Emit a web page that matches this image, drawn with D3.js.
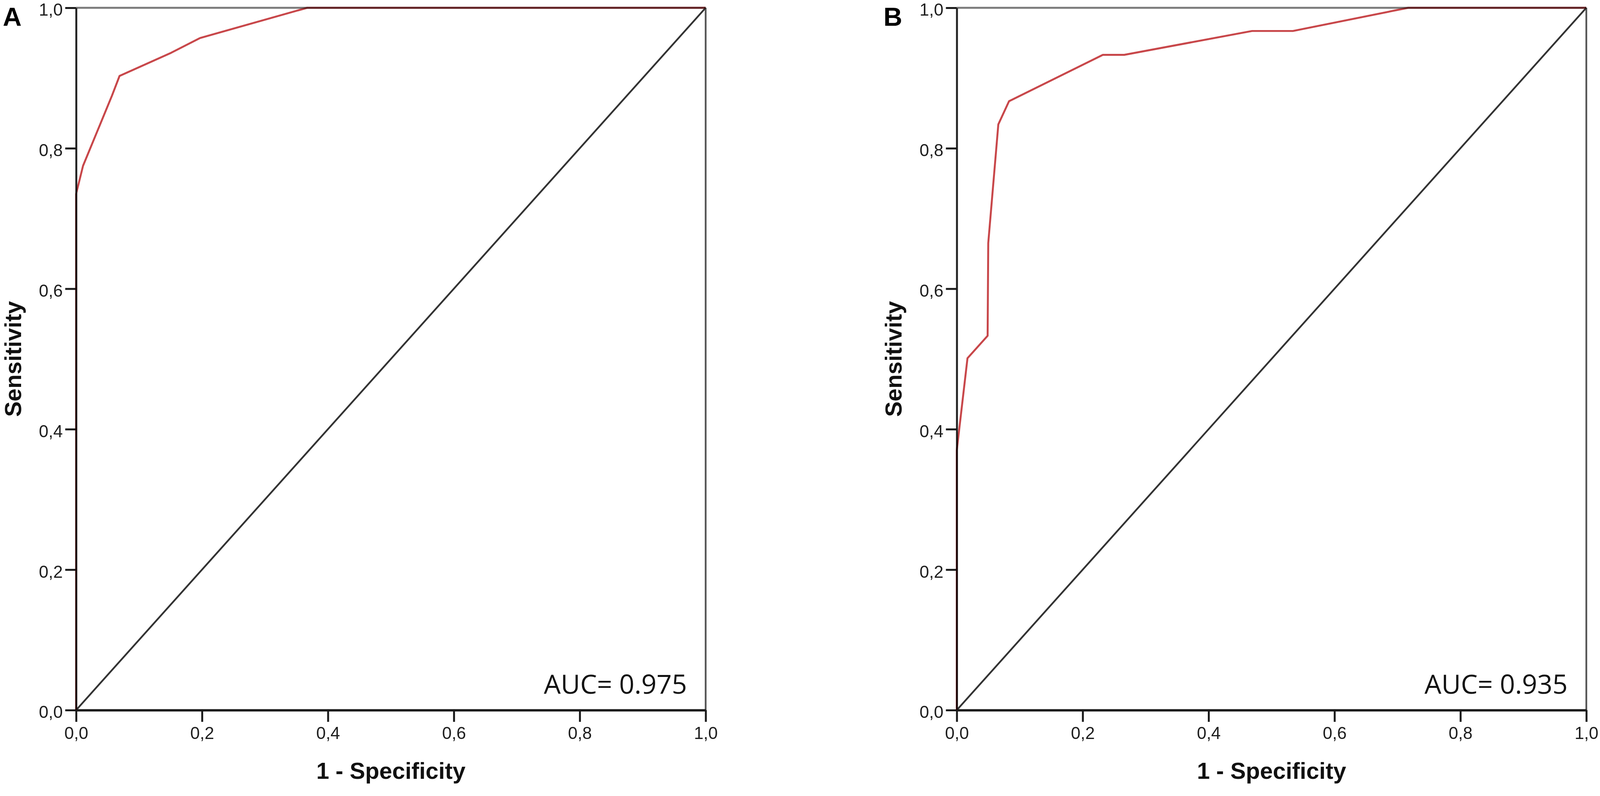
<!DOCTYPE html>
<html>
<head>
<meta charset="utf-8">
<script src="https://cdn.jsdelivr.net/npm/d3@7"></script>
<style>
html, body { margin: 0; padding: 0; background: #fff; overflow: hidden; }
#chart svg { display: block; }
</style>
</head>
<body>
<div id="chart"></div>
<script>
// ROC curves (1 - specificity, sensitivity)
var panelNames = ['A', 'B'];
var fprA = [0, 0, 0.011, 0.057, 0.069, 0.151, 0.197, 0.367, 1];
var tprA = [0, 0.735, 0.775, 0.875, 0.903, 0.936, 0.957, 1, 1];
var fprB = [0, 0, 0.017, 0.049, 0.050, 0.066, 0.083, 0.232, 0.266, 0.469, 0.534, 0.717, 1];
var tprB = [0, 0.370, 0.501, 0.533, 0.665, 0.834, 0.867, 0.933, 0.933, 0.967, 0.967, 1, 1];
var aucLabels = ['AUC= 0.975', 'AUC= 0.935'];
var tickValues = [0, 0.2, 0.4, 0.6, 0.8, 1.0];

// layout is measured on a 4562 x 2039 figure and stretched to the real viewport
var width = 4562, height = 2039;
var vw = window.innerWidth || width, vh = window.innerHeight || height;
var sx = vw / width, sy = vh / height, s = Math.min(sx, sy);
var plotW = 1795 * sx, plotH = 1799 * sy, plotTop = 20 * sy;
var lefts = [217 * sx, 2728 * sx];

// comma as decimal separator, like the original
var fmt = d3.formatLocale({ decimal: ",", thousands: ".", grouping: [3], currency: ["", ""] }).format(".1f");

var svg = d3.select("#chart").append("svg").attr("width", vw).attr("height", vh);

function drawPanel(i, fpr, tpr) {
    var x = d3.scaleLinear().domain([0, 1]).range([0, plotW]);
    var y = d3.scaleLinear().domain([0, 1]).range([plotH, 0]);

    var g = svg.append("g").attr("transform", "translate(" + lefts[i] + "," + plotTop + ")");

    // frame: top and right edges
    g.append("line").attr("x1", x(0)).attr("x2", x(1)).attr("y1", y(1)).attr("y2", y(1))
        .attr("stroke", "#7a7a7a").attr("stroke-width", 5.5 * s);
    g.append("line").attr("x1", x(1)).attr("x2", x(1)).attr("y1", y(1)).attr("y2", y(0))
        .attr("stroke", "#555").attr("stroke-width", 5 * s);

    // reference diagonal
    g.append("line").attr("x1", x(0)).attr("y1", y(0)).attr("x2", x(1)).attr("y2", y(1))
        .attr("stroke", "#333").attr("stroke-width", 5 * s);

    var xAxis = g.append("g").attr("transform", "translate(0," + plotH + ")")
        .call(d3.axisBottom(x).tickValues(tickValues).tickFormat(fmt)
            .tickSize(30 * sy).tickPadding(13 * sy).tickSizeOuter(0));
    var yAxis = g.append("g")
        .call(d3.axisLeft(y).tickValues(tickValues).tickFormat(fmt)
            .tickSize(31 * sx).tickPadding(7 * sx).tickSizeOuter(0));

    xAxis.select(".domain").attr("stroke", "#1a1a1a").attr("stroke-width", 6.5 * s);
    yAxis.select(".domain").attr("stroke", "#222").attr("stroke-width", 5.5 * s);
    [xAxis, yAxis].forEach(function(a) {
        a.selectAll(".tick line").attr("stroke", "#1a1a1a").attr("stroke-width", 5.5 * s);
        a.selectAll("text").attr("fill", "#1e1e1e")
            .style("font-family", "'Liberation Sans', Arial, sans-serif").style("font-size", (49 * s) + "px");
    });
    yAxis.selectAll("text").attr("dy", "0.45em");

    // ROC curve, multiplied so it darkens where it runs along the frame
    var line = d3.line().x(function(d) { return x(d[0]); }).y(function(d) { return y(d[1]); });
    g.append("path").datum(d3.zip(fpr, tpr)).attr("d", line)
        .attr("fill", "none").attr("stroke", "#c8474a").attr("stroke-width", 5.5 * s)
        .attr("stroke-linejoin", "round").style("mix-blend-mode", "multiply");

    g.append("text").attr("x", x(1) - 53 * sx).attr("y", y(0) - 42 * sy)
        .attr("text-anchor", "end").attr("fill", "#111")
        .style("font-family", "'Open Sans', sans-serif").style("font-size", (76 * s) + "px")
        .text(aucLabels[i]);

    g.append("text").attr("x", plotW / 2).attr("y", plotH + 176 * sy)
        .attr("text-anchor", "middle").attr("fill", "#111")
        .style("font-family", "'Liberation Sans', Arial, sans-serif").style("font-size", (66 * s) + "px")
        .style("font-weight", "bold")
        .text("1 - Specificity");

    g.append("text").attr("transform", "translate(" + (-157 * sx) + "," + plotH / 2 + ") rotate(-90)")
        .attr("text-anchor", "middle").attr("fill", "#111")
        .style("font-family", "'Liberation Sans', Arial, sans-serif").style("font-size", (66 * s) + "px")
        .style("font-weight", "bold")
        .text("Sensitivity");

    g.append("text").attr("x", -209 * sx).attr("y", 46 * sy).attr("fill", "#000")
        .style("font-family", "'Liberation Sans', Arial, sans-serif").style("font-size", (74 * s) + "px")
        .style("font-weight", "bold")
        .text(panelNames[i]);
}

drawPanel(0, fprA, tprA);
drawPanel(1, fprB, tprB);
</script>
</body>
</html>
